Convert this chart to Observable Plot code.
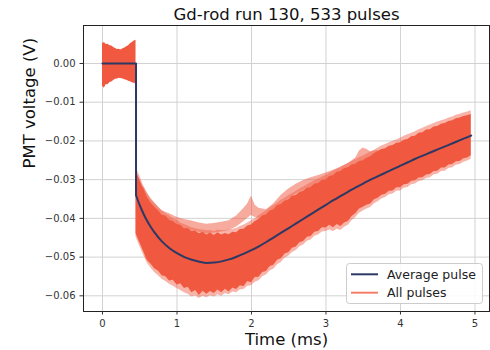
<!DOCTYPE html>
<html><head><meta charset="utf-8">
<script src="https://cdn.jsdelivr.net/npm/d3@7"></script>
<script src="https://cdn.jsdelivr.net/npm/@observablehq/plot@0.6"></script>
<style>
html,body{margin:0;padding:0;background:#fff;}
#chart{width:490px;height:350px;}
</style></head><body><div id="chart"></div>
<script>
const title = "Gd-rod run 130, 533 pulses";
const xLabel = "Time (ms)";
const yLabel = "PMT voltage (V)";
const legendLabels = ["Average pulse", "All pulses"];
const xTicks = [0, 1, 2, 3, 4, 5];
const yTicks = [0, -0.01, -0.02, -0.03, -0.04, -0.05, -0.06];

// Baseline (pre-trigger) spread of all pulses
const preT = [0, 0.025, 0.05, 0.075, 0.10, 0.125, 0.15, 0.175, 0.20, 0.225, 0.25, 0.275, 0.30, 0.325, 0.35, 0.375, 0.40, 0.425, 0.45];
const preHi = [0.0051, 0.0054, 0.0049, 0.0050, 0.0046, 0.0045, 0.0041, 0.0039, 0.0036, 0.0037, 0.0035, 0.0038, 0.0040, 0.0043, 0.0046, 0.0051, 0.0054, 0.0058, 0.0060];
const preLo = [-0.0058, -0.0064, -0.0054, -0.0055, -0.0049, -0.0048, -0.0044, -0.0041, -0.0040, -0.0038, -0.0039, -0.0040, -0.0042, -0.0043, -0.0046, -0.0047, -0.0050, -0.0051, -0.0053];

// Main spread of all pulses after the trigger (dense core and outer spikes)
const bandT = [0.45, 0.50, 0.55, 0.60, 0.65, 0.70, 0.75, 0.80, 0.85, 0.90, 0.95, 1.00, 1.05, 1.10, 1.15, 1.20, 1.25, 1.30, 1.35, 1.40, 1.45, 1.50, 1.55, 1.60, 1.65, 1.70, 1.75, 1.80, 1.85, 1.90, 1.95, 2.00, 2.05, 2.10, 2.15, 2.20, 2.25, 2.30, 2.35, 2.40, 2.45, 2.50, 2.55, 2.60, 2.65, 2.70, 2.75, 2.80, 2.85, 2.90, 2.95, 3.00, 3.05, 3.10, 3.15, 3.20, 3.25, 3.30, 3.35, 3.40, 3.45, 3.50, 3.55, 3.60, 3.65, 3.70, 3.75, 3.80, 3.85, 3.90, 3.95, 4.00, 4.05, 4.10, 4.15, 4.20, 4.25, 4.30, 4.35, 4.40, 4.45, 4.50, 4.55, 4.60, 4.65, 4.70, 4.75, 4.80, 4.85, 4.90, 4.95];
const bandHi = [-0.0278, -0.0300, -0.0322, -0.0345, -0.0360, -0.0371, -0.0380, -0.0392, -0.0394, -0.0405, -0.0408, -0.0416, -0.0418, -0.0427, -0.0426, -0.0434, -0.0433, -0.0440, -0.0436, -0.0443, -0.0438, -0.0444, -0.0437, -0.0443, -0.0439, -0.0442, -0.0436, -0.0437, -0.0429, -0.0428, -0.0420, -0.0417, -0.0408, -0.0403, -0.0394, -0.0391, -0.0381, -0.0378, -0.0367, -0.0364, -0.0356, -0.0352, -0.0343, -0.0341, -0.0333, -0.0330, -0.0322, -0.0320, -0.0312, -0.0310, -0.0302, -0.0301, -0.0292, -0.0290, -0.0281, -0.0279, -0.0271, -0.0269, -0.0262, -0.0260, -0.0253, -0.0251, -0.0245, -0.0241, -0.0233, -0.0227, -0.0222, -0.0220, -0.0214, -0.0212, -0.0206, -0.0205, -0.0198, -0.0196, -0.0189, -0.0188, -0.0180, -0.0179, -0.0172, -0.0171, -0.0164, -0.0163, -0.0157, -0.0155, -0.0150, -0.0148, -0.0143, -0.0141, -0.0137, -0.0135, -0.0132];
const bandLo = [-0.0440, -0.0462, -0.0485, -0.0508, -0.0518, -0.0530, -0.0536, -0.0548, -0.0551, -0.0562, -0.0560, -0.0572, -0.0569, -0.0581, -0.0578, -0.0592, -0.0586, -0.0599, -0.0588, -0.0596, -0.0589, -0.0594, -0.0585, -0.0592, -0.0583, -0.0590, -0.0580, -0.0584, -0.0574, -0.0576, -0.0563, -0.0566, -0.0553, -0.0552, -0.0540, -0.0537, -0.0524, -0.0521, -0.0508, -0.0504, -0.0492, -0.0489, -0.0477, -0.0474, -0.0463, -0.0460, -0.0449, -0.0447, -0.0436, -0.0434, -0.0424, -0.0425, -0.0418, -0.0424, -0.0416, -0.0421, -0.0412, -0.0408, -0.0395, -0.0388, -0.0376, -0.0371, -0.0366, -0.0363, -0.0352, -0.0348, -0.0340, -0.0338, -0.0330, -0.0329, -0.0321, -0.0321, -0.0313, -0.0312, -0.0304, -0.0303, -0.0296, -0.0295, -0.0288, -0.0287, -0.0279, -0.0278, -0.0270, -0.0270, -0.0262, -0.0261, -0.0254, -0.0253, -0.0246, -0.0244, -0.0238];
const spikeHi = [-0.0268, -0.0290, -0.0315, -0.0333, -0.0352, -0.0360, -0.0372, -0.0380, -0.0388, -0.0393, -0.0401, -0.0405, -0.0412, -0.0416, -0.0420, -0.0424, -0.0427, -0.0429, -0.0430, -0.0432, -0.0431, -0.0434, -0.0430, -0.0432, -0.0431, -0.0430, -0.0428, -0.0426, -0.0421, -0.0417, -0.0412, -0.0406, -0.0401, -0.0393, -0.0387, -0.0380, -0.0373, -0.0367, -0.0360, -0.0353, -0.0348, -0.0341, -0.0336, -0.0330, -0.0324, -0.0319, -0.0313, -0.0308, -0.0303, -0.0298, -0.0293, -0.0289, -0.0283, -0.0278, -0.0273, -0.0268, -0.0263, -0.0258, -0.0253, -0.0248, -0.0243, -0.0239, -0.0234, -0.0229, -0.0224, -0.0218, -0.0213, -0.0209, -0.0205, -0.0201, -0.0197, -0.0193, -0.0188, -0.0184, -0.0180, -0.0176, -0.0171, -0.0167, -0.0163, -0.0159, -0.0155, -0.0151, -0.0148, -0.0145, -0.0141, -0.0138, -0.0134, -0.0131, -0.0128, -0.0125, -0.0122];
const spikeLo = [-0.0448, -0.0472, -0.0494, -0.0515, -0.0528, -0.0540, -0.0548, -0.0557, -0.0563, -0.0570, -0.0575, -0.0581, -0.0586, -0.0592, -0.0596, -0.0603, -0.0600, -0.0607, -0.0601, -0.0605, -0.0600, -0.0603, -0.0597, -0.0601, -0.0594, -0.0597, -0.0590, -0.0592, -0.0585, -0.0584, -0.0575, -0.0574, -0.0565, -0.0561, -0.0551, -0.0546, -0.0536, -0.0531, -0.0520, -0.0514, -0.0503, -0.0498, -0.0488, -0.0483, -0.0473, -0.0469, -0.0459, -0.0456, -0.0446, -0.0443, -0.0435, -0.0434, -0.0430, -0.0434, -0.0428, -0.0431, -0.0423, -0.0418, -0.0406, -0.0398, -0.0387, -0.0381, -0.0376, -0.0372, -0.0362, -0.0357, -0.0350, -0.0346, -0.0339, -0.0337, -0.0330, -0.0329, -0.0322, -0.0320, -0.0313, -0.0311, -0.0305, -0.0303, -0.0297, -0.0295, -0.0288, -0.0286, -0.0279, -0.0278, -0.0271, -0.0269, -0.0263, -0.0261, -0.0255, -0.0252, -0.0247];

// One drifting pulse, drawn lighter above the main spread
const outT = [0.55, 0.60, 0.70, 0.80, 0.90, 1.00, 1.10, 1.20, 1.30, 1.40, 1.50, 1.60, 1.70, 1.80, 1.90, 1.95, 1.98, 2.00, 2.02, 2.05, 2.10, 2.20, 2.30, 2.40, 2.50, 2.60, 2.70, 2.80, 2.90, 3.00, 3.10, 3.20, 3.30, 3.40, 3.45, 3.50, 3.55, 3.60, 3.70];
const outHi = [-0.0318, -0.0336, -0.0360, -0.0380, -0.0388, -0.0397, -0.0403, -0.0407, -0.0412, -0.0415, -0.0413, -0.0410, -0.0406, -0.0394, -0.0374, -0.0362, -0.0350, -0.0343, -0.0352, -0.0366, -0.0374, -0.0378, -0.0362, -0.0340, -0.0324, -0.0312, -0.0302, -0.0295, -0.0289, -0.0283, -0.0276, -0.0268, -0.0258, -0.0244, -0.0226, -0.0218, -0.0222, -0.0228, -0.0224];
const outLo = [-0.0345, -0.0360, -0.0382, -0.0398, -0.0408, -0.0418, -0.0426, -0.0432, -0.0436, -0.0440, -0.0438, -0.0435, -0.0431, -0.0422, -0.0408, -0.0400, -0.0395, -0.0392, -0.0395, -0.0398, -0.0400, -0.0398, -0.0388, -0.0366, -0.0350, -0.0338, -0.0328, -0.0320, -0.0313, -0.0306, -0.0299, -0.0291, -0.0282, -0.0272, -0.0262, -0.0254, -0.0252, -0.0252, -0.0244];

// Average pulse
const avgT = [0, 0.45, 0.45, 0.50, 0.55, 0.60, 0.65, 0.70, 0.80, 0.90, 1.00, 1.10, 1.20, 1.30, 1.40, 1.50, 1.60, 1.70, 1.80, 1.90, 2.00, 2.10, 2.20, 2.30, 2.40, 2.50, 2.60, 2.70, 2.80, 2.90, 3.00, 3.10, 3.20, 3.30, 3.40, 3.50, 3.60, 3.70, 3.80, 3.90, 4.00, 4.10, 4.20, 4.30, 4.40, 4.50, 4.60, 4.70, 4.80, 4.90, 4.95];
const avgV = [0, 0, -0.0340, -0.0366, -0.0388, -0.0407, -0.0423, -0.0437, -0.0460, -0.0477, -0.0490, -0.0500, -0.0507, -0.0512, -0.0515, -0.0514, -0.0511, -0.0506, -0.0499, -0.0491, -0.0482, -0.0472, -0.0461, -0.0449, -0.0437, -0.0425, -0.0413, -0.0401, -0.0389, -0.0377, -0.0365, -0.0353, -0.0342, -0.0331, -0.0320, -0.0310, -0.0300, -0.0291, -0.0282, -0.0273, -0.0264, -0.0255, -0.0246, -0.0238, -0.0230, -0.0222, -0.0214, -0.0206, -0.0198, -0.0190, -0.0186];

const bandColor = "#f05840";
const legendPulseColor = "#f47e6a";
const avgColor = "#2c3964";
const font = '"DejaVu Sans", sans-serif';

const pre = preT.map((t, i) => ({t, hi: preHi[i], lo: preLo[i]}));
const band = bandT.map((t, i) => ({t, hi: bandHi[i], lo: bandLo[i], shi: spikeHi[i], slo: spikeLo[i]}));
const outlier = outT.map((t, i) => ({t, hi: outHi[i], lo: outLo[i]}));
const avg = avgT.map((t, i) => ({t, v: avgV[i]}));
const avgStep = avg.slice(0, 3);
const avgCurve = avg.slice(2);

const chart = Plot.plot({
  width: 490, height: 350,
  marginLeft: 83, marginRight: 1, marginTop: 25, marginBottom: 39,
  style: {fontFamily: font, background: "#fff", overflow: "visible"},
  x: {domain: [-0.255, 5.195], label: null},
  y: {domain: [-0.06405, 0.00981], label: null},
  marks: [
    Plot.gridX(xTicks, {stroke: "#d2d2d2", strokeOpacity: 1, strokeWidth: 1}),
    Plot.gridY(yTicks, {stroke: "#d2d2d2", strokeOpacity: 1, strokeWidth: 1}),
    Plot.areaY(pre, {x: "t", y1: "lo", y2: "hi", fill: bandColor}),
    Plot.areaY(band, {x: "t", y1: "slo", y2: "shi", fill: bandColor, fillOpacity: 0.45}),
    Plot.areaY(outlier, {x: "t", y1: "lo", y2: "hi", fill: bandColor, fillOpacity: 0.5}),
    Plot.areaY(band, {x: "t", y1: "lo", y2: "hi", fill: bandColor}),
    Plot.line(avgStep, {x: "t", y: "v", stroke: avgColor, strokeWidth: 2}),
    Plot.line(avgCurve, {x: "t", y: "v", stroke: avgColor, strokeWidth: 2, curve: "monotone-x"}),
    Plot.frame({stroke: "#222", strokeWidth: 1}),
    Plot.axisX(xTicks, {tickSize: 3.5, tickPadding: 5, fontSize: 10, color: "#333", label: null, tickFormat: d3.format("d")}),
    Plot.axisY(yTicks, {tickSize: 3.5, tickPadding: 4.5, fontSize: 10, color: "#333", label: null, tickFormat: d3.format(".2f")}),
    Plot.text([title], {text: d => d, frameAnchor: "top", dy: -11, fontSize: 16.5, lineAnchor: "middle", fill: "#111"}),
    Plot.text([xLabel], {text: d => d, frameAnchor: "bottom", dy: 28, fontSize: 16.5, lineAnchor: "middle", fill: "#111"}),
    Plot.text([yLabel], {text: d => d, frameAnchor: "left", dx: -54, rotate: -90, fontSize: 16.5, lineAnchor: "middle", fill: "#111"})
  ]
});
document.getElementById("chart").appendChild(chart);

// Legend (layout box in the lower-right corner of the axes)
const svg = d3.select(chart);
const lg = svg.append("g").attr("font-family", font).attr("text-anchor", "start");
lg.append("rect").attr("x", 346.5).attr("y", 263.5).attr("width", 136).attr("height", 40).attr("rx", 3)
  .attr("fill", "#fff").attr("fill-opacity", 0.85).attr("stroke", "#cccccc");
const legendColors = [avgColor, legendPulseColor];
legendLabels.forEach((lab, i) => {
  const y = 274.3 + i * 18.4;
  lg.append("line").attr("x1", 351).attr("x2", 378).attr("y1", y).attr("y2", y)
    .attr("stroke", legendColors[i]).attr("stroke-width", 2);
  lg.append("text").attr("x", 387).attr("y", y).attr("dy", "0.35em")
    .attr("text-anchor", "start").attr("font-size", 12.5).attr("fill", "#222").text(lab);
});
</script></body></html>
